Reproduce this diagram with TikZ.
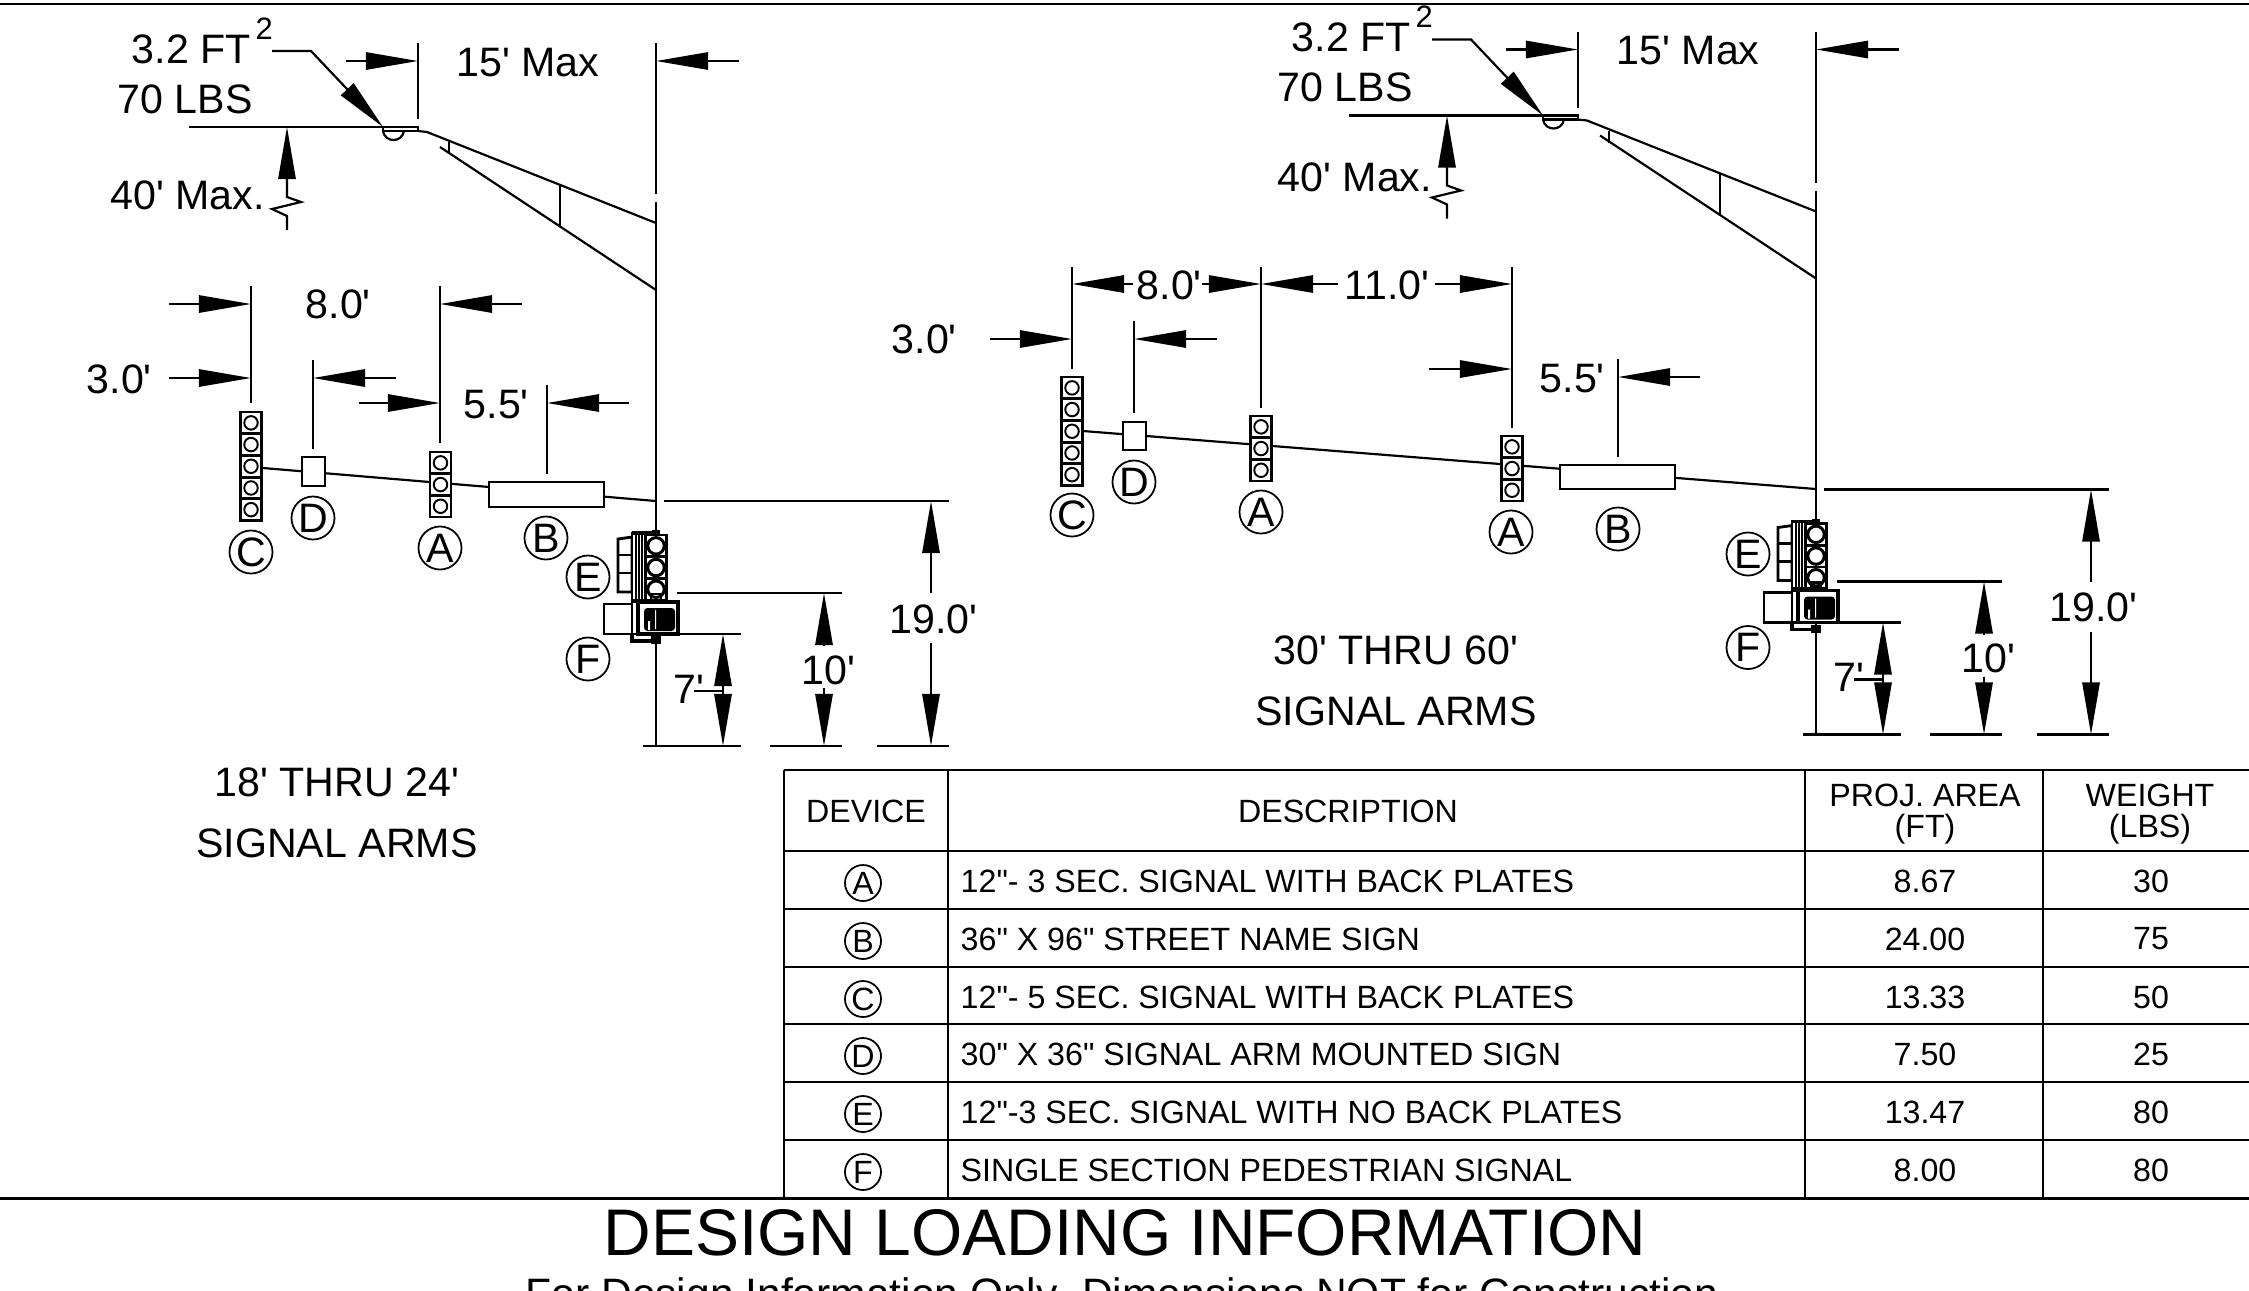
\documentclass[tikz,border=0pt]{standalone}
\usepackage{fontspec}
\usetikzlibrary{arrows.meta}
\newfontfamily\cadfont{Liberation Sans}
\tikzstyle{thin line} = [line width=0.62pt]
\tikzstyle{dimarrow} = [line width=0.62pt, -{Triangle[length=14.8pt,width=4.9pt]}]
\tikzstyle{dimtext} = [font=\cadfont\fontsize{11.7}{13}\selectfont, anchor=base west, inner sep=0]
\tikzstyle{tag} = [draw, circle, line width=0.5pt, minimum size=0.43cm, inner sep=0, fill=white, font=\cadfont\fontsize{11.7}{13}\selectfont]
\tikzstyle{sigcell} = [draw, fill=white, line width=0.75pt, minimum width=0.21cm, minimum height=0.215cm, inner sep=0]
\tikzstyle{lamp} = [draw, circle, line width=0.55pt, minimum size=0.135cm, inner sep=0]
\tikzstyle{biglamp} = [line width=0.85pt, minimum size=0.165cm]
\tikzstyle{signbox} = [draw, fill=white, line width=0.75pt, inner sep=0]
\tikzstyle{cell} = [font=\cadfont\fontsize{9.15}{9}\selectfont, inner sep=0]
\tikzstyle{celltag} = [draw, circle, line width=0.5pt, minimum size=0.36cm, inner sep=0, font=\cadfont\fontsize{9.15}{9}\selectfont]
\newcommand{\sighead}[5][]{
	\foreach \s in {1,...,#5} {
		\node[sigcell] (#2\s) at (#3, {#4+21.7*(\s-0.5)}) {};
		\node[lamp, #1] (#2lamp\s) at (#2\s) {};
	}
}

\begin{document}
\begin{tikzpicture}[x=0.01cm, y=-0.01cm]
	\useasboundingbox (0,0) rectangle (2249,1290);

	% rules of the sheet
	\draw[line width=0.7pt] (0,4) -- (2249,4);
	\draw[line width=0.85pt] (0,1198) -- (2249,1198);

	% parts both figures share
	\foreach \fig/\dx/\dy/\ey in {l/0/0/577, r/1160/-11.5/554} {
	\begin{scope}[shift={(\dx,\dy)}]
		\draw[thin line] (418,43) -- (418,119);
		\draw[thin line] (656,43) -- (656,194);
		\draw[thin line] (656,202) -- (656,746);
		\draw[dimarrow] (346,61) -- (418,61);
		\draw[dimarrow] (739,61) -- (656,61);
		\draw[thin line] (189,127) -- (383,127);
		\draw[thin line] (383,127) rectangle (418,131);
		\draw[thin line] (383,131) .. controls (385,143) and (402,143) .. (404,131);
		\draw[thin line] (418,131) -- (427,132) -- (656,223);
		\draw[thin line] (440,147) -- (656,290);
		\draw[thin line] (449,142) -- (449,154);
		\draw[thin line] (560,185) -- (560,227);
		\draw[dimarrow] (272,51) -- (311,51) -- (383,127);
		\draw[dimarrow] (287,230) -- (287,216) -- (272,209) -- (301,202) -- (287,197) -- (287,127);
		\node[dimtext] (area\fig) at (131,63) {3.2 FT};
		\node[dimtext, font=\cadfont\fontsize{8.8}{9}\selectfont] (sq\fig) at (255,39) {2};
		\node[dimtext] (lbs\fig) at (117,113) {70 LBS};
		\node[dimtext] (max\fig) at (456,76) {15' Max};

		% heights
		\draw[thin line] (664,501) -- (949,501);
		\draw[thin line] (677,593) -- (842,593);
		\draw[thin line] (604,634) -- (741,634);
		\draw[thin line] (643,746) -- (741,746);
		\draw[thin line] (770,746) -- (842,746);
		\draw[thin line] (877,746) -- (949,746);
		\draw[dimarrow] (931,593) -- (931,501);
		\draw[dimarrow] (931,643) -- (931,746);
		\draw[dimarrow] (824,646) -- (824,593);
		\draw[dimarrow] (824,688) -- (824,746);
		\draw[dimarrow] (723,691) -- (723,634);
		\draw[dimarrow] (723,691) -- (723,746);
		\draw[thin line] (694,691) -- (723,691);
		\node[dimtext] (high\fig) at (889,633) {19.0'};
		\node[dimtext] (mid\fig) at (801,684) {10'};
		\node[dimtext] (low\fig) at (673,703) {7'};

		% signal on the pole
		\draw[fill=white, line width=0.8pt] (618,539) -- (632,537) -- (632,592) -- (618,592) -- cycle;
		\draw[line width=0.8pt] (618,555) -- (632,555) (618,573) -- (632,573);
		\draw[fill=white, line width=0.7pt] (632,533) rectangle (642,600);
		\draw[line width=0.5pt] (636,533) -- (636,600) (639,533) -- (639,600);
		\draw[line width=0.9pt] (632,533) -- (656,533);
		\sighead[biglamp]{pole\fig}{656}{535}{3}
		\fill (652,530) rectangle (660,536);
		\draw[line width=0.8pt] (651,594) rectangle (661,602);
		\draw[line width=0.8pt] (632,600) -- (650,600);

		% pedestrian signal
		\draw[fill=white, line width=0.6pt] (604,604) rectangle (632,634);
		\draw[fill=white, line width=0.6pt] (632,602) rectangle (638,634);
		\draw[fill=white, line width=1.0pt] (638,602) rectangle (678,634);
		\fill[rounded corners=1pt] (644,608) rectangle (675,631);
		\fill[white] (655,610) rectangle (656,629) (648,621) rectangle (650,630);
		\draw[line width=1pt] (632,634) -- (632,641) -- (656,641);
		\fill (651,636) rectangle (661,644);

		\node[tag] (tagf\fig) at (588,659) {F};
		\node[tag] (tage\fig) at (588,\ey-\dy) {E};
	\end{scope}
	}

	% left figure
	\node[dimtext] (sway) at (110,209) {40' Max.};
	\foreach \x/\a/\b in {251/286/403, 440/286/443, 313/360/449, 547/385/474}
		\draw[thin line] (\x,\a) -- (\x,\b);
	\foreach \a/\b/\y in {169/251/304, 522/440/304, 169/251/378, 396/313/378, 358.5/440/403, 629/547/403}
		\draw[dimarrow] (\a,\y) -- (\b,\y);
	\node[dimtext] (offl) at (86,393) {3.0'};
	\node[dimtext] (spanl) at (305,318) {8.0'};
	\node[dimtext] (signl) at (463,418) {5.5'};
	\coordinate (armstartl) at (263,468);
	\coordinate (armendl) at (656,501);
	\draw[thin line] (armstartl) -- (armendl);
	\sighead{headc}{251}{412}{5}
	\sighead{heada}{440.5}{452}{3}
	\node[signbox, minimum width=0.23cm, minimum height=0.29cm] (boxd) at (313.5,471.5) {};
	\node[signbox, minimum width=1.15cm, minimum height=0.25cm] (boxb) at (546.5,494.5) {};
	\node[tag] (tagc) at (251,552) {C};
	\node[tag] (tagd) at (313,518) {D};
	\node[tag] (taga) at (440,548) {A};
	\node[tag] (tagb) at (546,538) {B};
	\node[dimtext, anchor=center] (thrul) at (337,782) {18' THRU 24'};
	\node[dimtext, anchor=center] (arml) at (337,843) {SIGNAL ARMS};

	% right figure
	\node[dimtext] (swayr) at (1277,191) {40' Max.};
	\foreach \x/\a/\b in {1072/267/369, 1261/267/408, 1512/267/428, 1134/321/413, 1618/359/457}
		\draw[thin line] (\x,\a) -- (\x,\b);
	\foreach \a/\b/\y in {1133/1072/284, 1202/1261/284, 1338/1261/284, 1435/1512/284, 990/1072/339, 1217/1134/339, 1429/1512/369, 1700/1618/377}
		\draw[dimarrow] (\a,\y) -- (\b,\y);
	\node[dimtext] (offr) at (891,353) {3.0'};
	\node[dimtext] (spanr) at (1136,299) {8.0'};
	\node[dimtext] (longr) at (1344,299) {11.0'};
	\node[dimtext] (signr) at (1539,392) {5.5'};
	\coordinate (armstartr) at (1083,431);
	\coordinate (armendr) at (1816,489);
	\draw[thin line] (armstartr) -- (armendr);
	\sighead{headcr}{1072}{377}{5}
	\sighead{headar}{1261}{416}{3}
	\sighead{headbr}{1512}{436}{3}
	\node[signbox, minimum width=0.23cm, minimum height=0.28cm] (boxdr) at (1134.5,436) {};
	\node[signbox, minimum width=1.15cm, minimum height=0.24cm] (boxbr) at (1617.5,477) {};
	\node[tag] (tagcr) at (1072,515) {C};
	\node[tag] (tagdr) at (1134,482) {D};
	\node[tag] (tagar) at (1261,512) {A};
	\node[tag] (tagasr) at (1511,532) {A};
	\node[tag] (tagbr) at (1618,529) {B};
	\node[dimtext, anchor=center] (thrur) at (1396,650) {30' THRU 60'};
	\node[dimtext, anchor=center] (armr) at (1396,711) {SIGNAL ARMS};

	% table
	\begin{scope}[line width=0.7pt]
		\draw (784,770) -- (2249,770);
		\draw (784,851) -- (2249,851);
		\foreach \y in {909,967,1024,1082,1140}
			\draw (784,\y) -- (2249,\y);
		\foreach \x in {784,948,1805,2043}
			\draw (\x,770) -- (\x,1198);
	\end{scope}
	\node[cell] (hdevice) at (866,811) {DEVICE};
	\node[cell] (hdesc) at (1348,811) {DESCRIPTION};
	\node[cell] (harea) at (1925,795) {PROJ. AREA};
	\node[cell] (hareau) at (1925,829) {(FT)};
	\node[cell] (hweight) at (2150,795) {WEIGHT};
	\node[cell] (hweightu) at (2150,829) {(LBS)};
	\foreach \y/\dev/\desc/\area/\wt in {
		881/A/12"- 3 SEC. SIGNAL WITH BACK PLATES/8.67/30,
		939/B/36" X 96" STREET NAME SIGN/24.00/75,
		997/C/12"- 5 SEC. SIGNAL WITH BACK PLATES/13.33/50,
		1054/D/30" X 36" SIGNAL ARM MOUNTED SIGN/7.50/25,
		1112/E/12"-3 SEC. SIGNAL WITH NO BACK PLATES/13.47/80,
		1170/F/SINGLE SECTION PEDESTRIAN SIGNAL/8.00/80} {
		\node[celltag] (dev\dev) at (863,\y+2) {\dev};
		\node[cell, anchor=west] (desc\dev) at (960,\y) {\desc};
		\node[cell] (area\dev) at (1925,\y) {\area};
		\node[cell] (wt\dev) at (2151,\y) {\wt};
	}

	% title
	\node[inner sep=0, font=\cadfont\fontsize{18.75}{20}\selectfont] (title) at (1125,1233) {DESIGN LOADING INFORMATION};
	\node[inner sep=0, anchor=base, font=\cadfont\fontsize{12.1}{13}\selectfont] (subtitle) at (1122,1308) {For Design Information Only. Dimensions NOT for Construction};
\end{tikzpicture}
\end{document}
